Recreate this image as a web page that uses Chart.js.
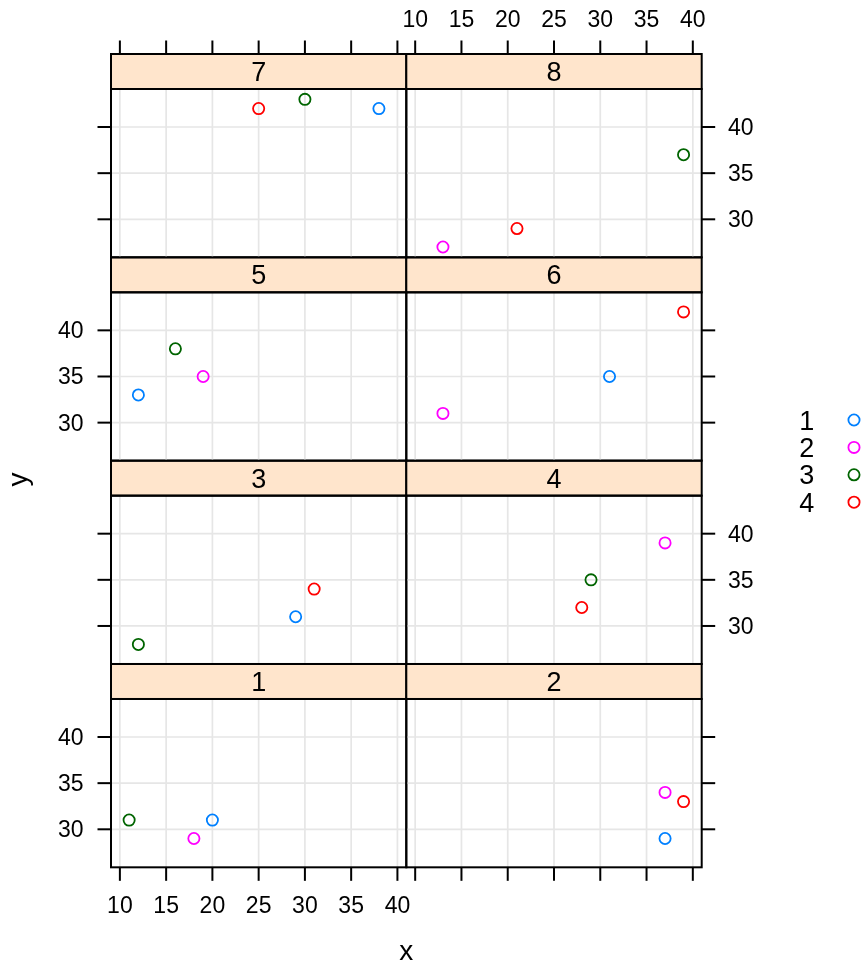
<!DOCTYPE html>
<html>
<head>
<meta charset="utf-8">
<script src="https://cdn.jsdelivr.net/npm/chart.js@4/dist/chart.umd.min.js"></script>
<style>
  body { margin: 0; background: #fff; }
  #wrap { position: relative; width: 862px; height: 968px; }
  #wrap canvas { position: absolute; left: 0; top: 0; }
</style>
</head>
<body>
<div id="wrap"></div>
<script>
// panels (conditioning levels) and groups
const panels = ['1', '2', '3', '4', '5', '6', '7', '8'];
const groups = ['1', '2', '3', '4'];
const colors = ['#0080ff', '#ff00ff', '#006400', '#ff0000'];

// one value per panel, null = no point for that group in the panel
const x1 = [20, 37, 29, null, 12, 31, 38, null];
const y1 = [31, 29, 31, null, 33, 35, 42, null];
const x2 = [18, 37, null, 37, 19, 13, null, 13];
const y2 = [29, 34, null, 39, 35, 31, null, 27];
const x3 = [11, null, 12, 29, 16, null, 30, 39];
const y3 = [31, null, 28, 35, 38, null, 43, 37];
const x4 = [null, 39, 31, 28, null, 39, 25, 21];
const y4 = [null, 33, 34, 32, null, 42, 42, 29];

const xTicks = [10, 15, 20, 25, 30, 35, 40];
const yTicks = [30, 35, 40];

const xs = [x1, x2, x3, x4];
const ys = [y1, y2, y3, y4];

// lattice-like range: data range extended by 7%
function extRange(arrs) {
  const v = arrs.flat().filter(d => d !== null);
  const lo = Math.min(...v), hi = Math.max(...v);
  const pad = (hi - lo) * 0.07;
  return [lo - pad, hi + pad];
}
const xr = extRange(xs);
const yr = extRange(ys);

const W = 862, H = 968;
const LEFT = 111, MID = 406.3, RIGHT = 701.7;
const TOP = 54, ROWH = 203.33, STRIPH = 35;
const TICK = 13.5;
const FONT = '"Liberation Sans", Arial, Helvetica, sans-serif';

function panelRect(i) {
  const col = i % 2;
  const rowTop = 3 - Math.floor(i / 2);
  const stripTop = TOP + rowTop * ROWH;
  return {
    col, rowTop,
    left: col ? MID : LEFT,
    right: col ? RIGHT : MID,
    stripTop,
    top: stripTop + STRIPH,
    bottom: stripTop + ROWH
  };
}

function line(ctx, x0, y0, x1, y1) {
  ctx.beginPath();
  ctx.moveTo(x0, y0);
  ctx.lineTo(x1, y1);
  ctx.stroke();
}

const latticePlugin = {
  id: 'lattice',
  beforeDatasetsDraw(chart, args, opts) {
    const ctx = chart.ctx, a = chart.chartArea;
    const sx = chart.scales.x, sy = chart.scales.y;
    ctx.save();
    ctx.strokeStyle = '#e6e6e6';
    ctx.lineWidth = 1.7;
    xTicks.forEach(t => { const px = sx.getPixelForValue(t); line(ctx, px, a.top, px, a.bottom); });
    yTicks.forEach(t => { const py = sy.getPixelForValue(t); line(ctx, a.left, py, a.right, py); });
    ctx.restore();
  },
  afterDatasetsDraw(chart, args, opts) {
    const ctx = chart.ctx, a = chart.chartArea;
    const sx = chart.scales.x, sy = chart.scales.y;
    const r = opts.rect;
    ctx.save();
    // strip
    ctx.fillStyle = '#ffe5cc';
    ctx.fillRect(a.left, r.stripTop, a.right - a.left, STRIPH);
    ctx.strokeStyle = '#000';
    ctx.lineWidth = 2;
    ctx.strokeRect(a.left, r.stripTop, a.right - a.left, STRIPH);
    ctx.strokeRect(a.left, a.top, a.right - a.left, a.bottom - a.top);
    ctx.fillStyle = '#000';
    ctx.font = '27px ' + FONT;
    ctx.textAlign = 'center';
    ctx.textBaseline = 'alphabetic';
    ctx.fillText(opts.label, (a.left + a.right) / 2, r.stripTop + STRIPH / 2 + 9.5);

    ctx.font = '23px ' + FONT;
    // top axis
    if (r.rowTop === 0) {
      xTicks.forEach(t => {
        const px = sx.getPixelForValue(t);
        line(ctx, px, r.stripTop, px, r.stripTop - TICK);
        if (r.col === 1) { ctx.textAlign = 'center'; ctx.fillText(String(t), px, 27); }
      });
    }
    // bottom axis
    if (r.rowTop === 3) {
      xTicks.forEach(t => {
        const px = sx.getPixelForValue(t);
        line(ctx, px, a.bottom, px, a.bottom + TICK);
        if (r.col === 0) { ctx.textAlign = 'center'; ctx.fillText(String(t), px, 912.5); }
      });
    }
    // left axis
    if (r.col === 0) {
      yTicks.forEach(t => {
        const py = sy.getPixelForValue(t);
        line(ctx, a.left, py, a.left - TICK, py);
        if (r.rowTop % 2 === 1) { ctx.textAlign = 'right'; ctx.fillText(String(t), 83.5, py + 8); }
      });
    }
    // right axis
    if (r.col === 1) {
      yTicks.forEach(t => {
        const py = sy.getPixelForValue(t);
        line(ctx, a.right, py, a.right + TICK, py);
        if (r.rowTop % 2 === 0) { ctx.textAlign = 'left'; ctx.fillText(String(t), 728, py + 8); }
      });
    }

    if (opts.extra) {
      // axis titles
      ctx.font = '28px ' + FONT;
      ctx.textAlign = 'center';
      ctx.fillText('x', (LEFT + RIGHT) / 2, 960);
      ctx.save();
      ctx.translate(27, 479.5);
      ctx.rotate(-Math.PI / 2);
      ctx.fillText('y', 0, 0);
      ctx.restore();
      // key
      ctx.font = '27px ' + FONT;
      groups.forEach((g, k) => {
        const cy = 420 + k * 27.4;
        ctx.fillStyle = '#000';
        ctx.textAlign = 'center';
        ctx.fillText(g, 806.7, cy + 9.5);
        ctx.strokeStyle = colors[k];
        ctx.lineWidth = 1.8;
        ctx.beginPath();
        ctx.arc(854, cy, 5.6, 0, Math.PI * 2);
        ctx.stroke();
      });
    }
    ctx.restore();
  }
};

const wrap = document.getElementById('wrap');
panels.forEach((p, i) => {
  const r = panelRect(i);
  const cv = document.createElement('canvas');
  cv.width = W;
  cv.height = H;
  cv.style.width = W + 'px';
  cv.style.height = H + 'px';
  wrap.appendChild(cv);

  const datasets = groups.map((g, k) => ({
    label: g,
    data: xs[k][i] === null ? [] : [{ x: xs[k][i], y: ys[k][i] }],
    pointStyle: 'circle',
    pointRadius: 5.6,
    pointBorderWidth: 1.8,
    pointBackgroundColor: 'rgba(0,0,0,0)',
    pointBorderColor: colors[k],
    showLine: false
  }));

  new Chart(cv, {
    type: 'scatter',
    data: { datasets },
    options: {
      responsive: false,
      animation: false,
      devicePixelRatio: 1,
      events: [],
      layout: { padding: { left: r.left, top: r.top, right: W - r.right, bottom: H - r.bottom } },
      scales: {
        x: { type: 'linear', min: xr[0], max: xr[1], display: false },
        y: { type: 'linear', min: yr[0], max: yr[1], display: false }
      },
      plugins: {
        legend: { display: false },
        tooltip: { enabled: false },
        lattice: { rect: r, label: p, extra: i === 0 }
      }
    },
    plugins: [latticePlugin]
  });
});
</script>
</body>
</html>
